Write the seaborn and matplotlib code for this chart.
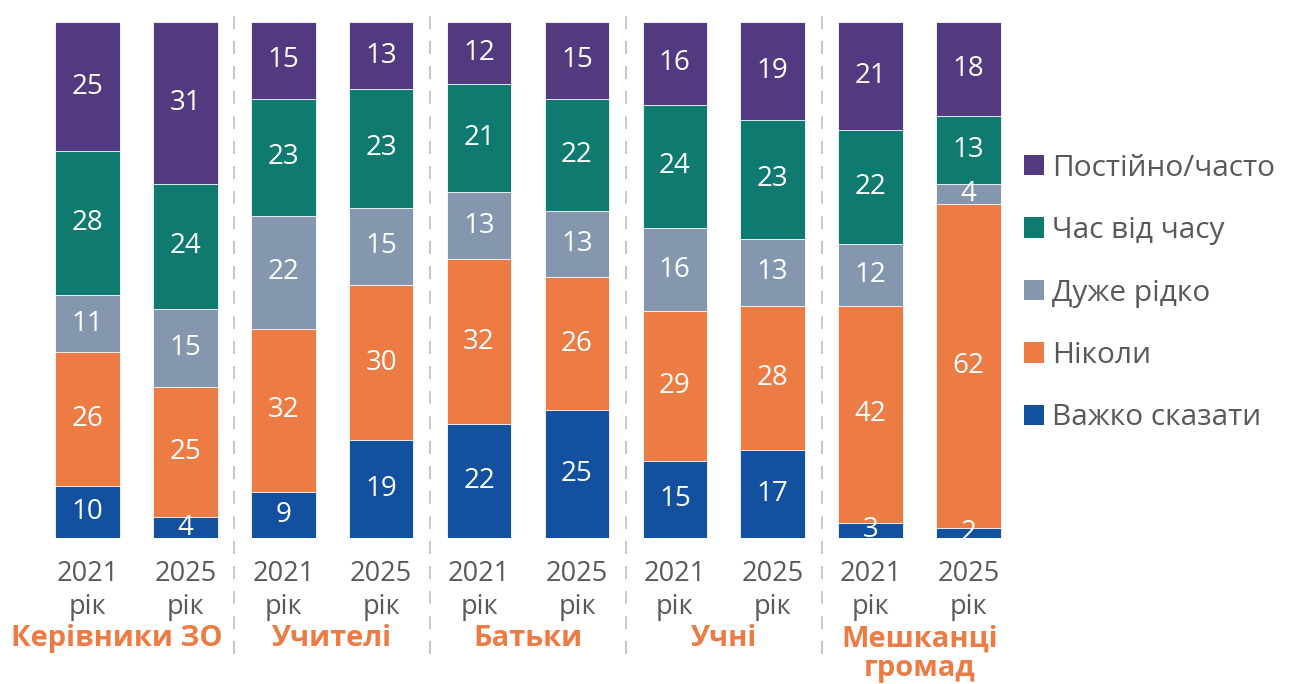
import numpy as np
import pandas as pd
import matplotlib
matplotlib.use("Agg")
import matplotlib.pyplot as plt
import seaborn as sns
from matplotlib.patches import Patch

# Respondent groups, survey years and answer categories (bottom to top of each bar)
groups = ["Керівники ЗО", "Учителі", "Батьки", "Учні", "Мешканці\nгромад"]
years = ["2021\nрік", "2025\nрік"]
series = ["Важко сказати", "Ніколи", "Дуже рідко", "Час від часу", "Постійно/часто"]

# Percentages per bar: groups x years in order
hard_to_say = [10, 4, 9, 19, 22, 25, 15, 17, 3, 2]
never = [26, 25, 32, 30, 32, 26, 29, 28, 42, 62]
very_rarely = [11, 15, 22, 15, 13, 13, 16, 13, 12, 4]
sometimes = [28, 24, 23, 23, 21, 22, 24, 23, 22, 13]
often = [25, 31, 15, 13, 12, 15, 16, 19, 21, 18]

colors = ["#1350A0", "#EC7B44", "#8497AF", "#0E7A70", "#533A80"]
text_grey = "#595959"
accent = "#EC7B44"

values = np.array([hard_to_say, never, very_rarely, sometimes, often], dtype=float)
totals = values.sum(axis=0)
shares = values / totals * 100
tops = np.cumsum(shares, axis=0)

bars = [f"{g} {y}" for g in groups for y in years]
df = pd.DataFrame({"bar": bars})
for k, s in enumerate(series):
    df[s] = values[k]
    df[s + "_top"] = tops[k]

sns.set_theme(style="white")
plt.rcParams["font.family"] = ["Open Sans", "DejaVu Sans"]

W, H = 1306, 684
fig = plt.figure(figsize=(W / 100, H / 100), dpi=100)
ax = fig.add_axes([38.6 / W, (H - 538) / H, (1017.4 - 38.6) / W, 516 / H])

# Stacked bars: draw cumulative heights from the top category down
for k in reversed(range(len(series))):
    sns.barplot(data=df, x="bar", y=series[k] + "_top", order=bars, color=colors[k],
                saturation=1, width=0.66, edgecolor="white", linewidth=0.6, ax=ax)

# Value labels centred in each segment
for i in range(len(bars)):
    for k in range(len(series)):
        center = tops[k, i] - shares[k, i] / 2
        ax.text(i, center, f"{int(values[k, i])}", ha="center", va="center",
                color="white", fontsize=20)

ax.set_xlim(-0.5, len(bars) - 0.5)
ax.set_ylim(0, 100)
ax.set_ylabel("")
ax.set_xlabel("")
ax.set_yticks([])
ax.set_xticks(range(len(bars)))
ax.set_xticklabels(years * len(groups), fontsize=19.5, color=text_grey, linespacing=1.22)
ax.tick_params(axis="x", length=0, pad=16)
for sp in ax.spines.values():
    sp.set_visible(False)

# Dashed separators between groups
for g in range(1, len(groups)):
    ax.plot([2 * g - 0.5, 2 * g - 0.5], [-22.5, 103.3], color="#BFBFBF", lw=1.2,
            linestyle=(0, (7.8, 7.2)), clip_on=False, zorder=0)

# Group names under the year labels
xt = ax.get_xaxis_transform()
for g, name in enumerate(groups):
    gx = 2 * g + 0.5 - (0.2 if g == 0 else 0)
    ax.text(gx, -0.167, name, transform=xt, ha="center", va="top", color=accent,
            fontsize=21, fontweight="bold", linespacing=1.02)

handles = [Patch(facecolor=colors[k], edgecolor="none", label=series[k])
           for k in reversed(range(len(series)))]
leg = fig.legend(handles=handles, loc="center left",
                 bbox_to_anchor=(1024 / W, (H - 293) / H), frameon=False,
                 fontsize=21.5, handlelength=0.68, handleheight=0.68,
                 handletextpad=0.25, labelspacing=1.12, borderaxespad=0,
                 borderpad=0)
for t in leg.get_texts():
    t.set_color(text_grey)

fig.savefig("out.png", dpi=100)
